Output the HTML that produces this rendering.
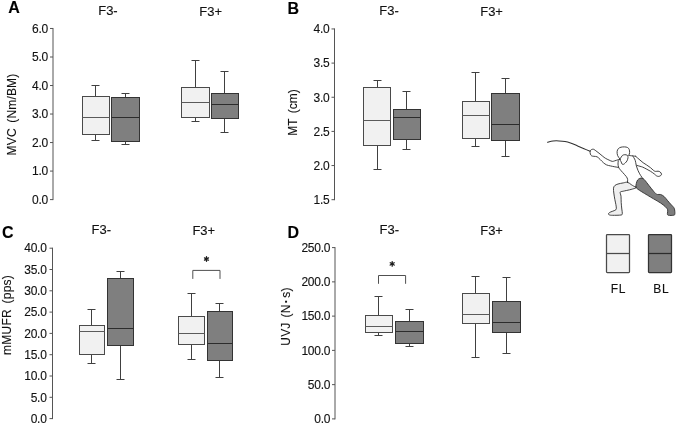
<!DOCTYPE html>
<html><head><meta charset="utf-8"><style>
html,body{margin:0;padding:0;background:#fff;}
svg{display:block;will-change:transform;}
text{font-family:"Liberation Sans",sans-serif;fill:#111;stroke:#111;stroke-width:0.12px;}
.t12{font-size:12px;}
.t13{font-size:13px;}
.lbl{font-size:16px;font-weight:bold;fill:#000;}
</style></head><body>
<svg width="676" height="425" viewBox="0 0 676 425">
<g>
<rect width="676" height="425" fill="#fff"/>
<text x="8.3" y="12.9" text-anchor="start" class="lbl" >A</text>
<text x="98.2" y="14.6" text-anchor="start" class="t13" >F3-</text>
<text x="199.3" y="15.8" text-anchor="start" class="t13" >F3+</text>
<line x1="53.0" y1="27.98" x2="53.0" y2="200.1" stroke="#555555" stroke-width="1"/>
<line x1="50.0" y1="199.6" x2="53.0" y2="199.6" stroke="#555555" stroke-width="1"/>
<text x="48" y="203.90" text-anchor="end" class="t12" letter-spacing="-0.25">0.0</text>
<line x1="50.0" y1="171.08" x2="53.0" y2="171.08" stroke="#555555" stroke-width="1"/>
<text x="48" y="175.38" text-anchor="end" class="t12" letter-spacing="-0.25">1.0</text>
<line x1="50.0" y1="142.56" x2="53.0" y2="142.56" stroke="#555555" stroke-width="1"/>
<text x="48" y="146.86" text-anchor="end" class="t12" letter-spacing="-0.25">2.0</text>
<line x1="50.0" y1="114.04" x2="53.0" y2="114.04" stroke="#555555" stroke-width="1"/>
<text x="48" y="118.34" text-anchor="end" class="t12" letter-spacing="-0.25">3.0</text>
<line x1="50.0" y1="85.52" x2="53.0" y2="85.52" stroke="#555555" stroke-width="1"/>
<text x="48" y="89.82" text-anchor="end" class="t12" letter-spacing="-0.25">4.0</text>
<line x1="50.0" y1="57.0" x2="53.0" y2="57.0" stroke="#555555" stroke-width="1"/>
<text x="48" y="61.30" text-anchor="end" class="t12" letter-spacing="-0.25">5.0</text>
<line x1="50.0" y1="28.48" x2="53.0" y2="28.48" stroke="#555555" stroke-width="1"/>
<text x="48" y="32.78" text-anchor="end" class="t12" letter-spacing="-0.25">6.0</text>
<text transform="translate(16.1,114.5) rotate(-90)" text-anchor="middle" class="t12" letter-spacing="0.17" word-spacing="2">MVC (Nm/BM)</text>
<line x1="95.5" y1="85.5" x2="95.5" y2="96.5" stroke="#404040" stroke-width="1"/>
<line x1="95.5" y1="134.5" x2="95.5" y2="140.5" stroke="#404040" stroke-width="1"/>
<line x1="91.5" y1="85.5" x2="99.5" y2="85.5" stroke="#404040" stroke-width="1"/>
<line x1="91.5" y1="140.5" x2="99.5" y2="140.5" stroke="#404040" stroke-width="1"/>
<rect x="82.5" y="96.5" width="27.0" height="38.0" fill="#f1f1f1" stroke="#4a4a4a" stroke-width="1"/>
<line x1="82.5" y1="117.5" x2="109.5" y2="117.5" stroke="#5a5a5a" stroke-width="1"/>
<line x1="125.5" y1="93.5" x2="125.5" y2="97.5" stroke="#404040" stroke-width="1"/>
<line x1="125.5" y1="141.5" x2="125.5" y2="144.5" stroke="#404040" stroke-width="1"/>
<line x1="121.5" y1="93.5" x2="129.5" y2="93.5" stroke="#404040" stroke-width="1"/>
<line x1="121.5" y1="144.5" x2="129.5" y2="144.5" stroke="#404040" stroke-width="1"/>
<rect x="111.5" y="97.5" width="28.0" height="44.0" fill="#7f7f7f" stroke="#333333" stroke-width="1"/>
<line x1="111.5" y1="117.5" x2="139.5" y2="117.5" stroke="#2c2c2c" stroke-width="1"/>
<line x1="195.5" y1="60.5" x2="195.5" y2="87.5" stroke="#404040" stroke-width="1"/>
<line x1="195.5" y1="117.5" x2="195.5" y2="121.5" stroke="#404040" stroke-width="1"/>
<line x1="191.5" y1="60.5" x2="199.5" y2="60.5" stroke="#404040" stroke-width="1"/>
<line x1="191.5" y1="121.5" x2="199.5" y2="121.5" stroke="#404040" stroke-width="1"/>
<rect x="181.5" y="87.5" width="28.0" height="30.0" fill="#f1f1f1" stroke="#4a4a4a" stroke-width="1"/>
<line x1="181.5" y1="102.5" x2="209.5" y2="102.5" stroke="#5a5a5a" stroke-width="1"/>
<line x1="224.5" y1="71.5" x2="224.5" y2="93.5" stroke="#404040" stroke-width="1"/>
<line x1="224.5" y1="118.5" x2="224.5" y2="132.5" stroke="#404040" stroke-width="1"/>
<line x1="220.5" y1="71.5" x2="228.5" y2="71.5" stroke="#404040" stroke-width="1"/>
<line x1="220.5" y1="132.5" x2="228.5" y2="132.5" stroke="#404040" stroke-width="1"/>
<rect x="211.5" y="93.5" width="27.0" height="25.0" fill="#7f7f7f" stroke="#333333" stroke-width="1"/>
<line x1="211.5" y1="104.5" x2="238.5" y2="104.5" stroke="#2c2c2c" stroke-width="1"/>
<text x="287.5" y="13.9" text-anchor="start" class="lbl" >B</text>
<text x="379.3" y="14.6" text-anchor="start" class="t13" >F3-</text>
<text x="480.2" y="15.8" text-anchor="start" class="t13" >F3+</text>
<line x1="334.5" y1="28.45" x2="334.5" y2="200.2" stroke="#555555" stroke-width="1"/>
<line x1="331.5" y1="199.7" x2="334.5" y2="199.7" stroke="#555555" stroke-width="1"/>
<text x="329.5" y="204.00" text-anchor="end" class="t12" letter-spacing="-0.25">1.5</text>
<line x1="331.5" y1="165.55" x2="334.5" y2="165.55" stroke="#555555" stroke-width="1"/>
<text x="329.5" y="169.85" text-anchor="end" class="t12" letter-spacing="-0.25">2.0</text>
<line x1="331.5" y1="131.4" x2="334.5" y2="131.4" stroke="#555555" stroke-width="1"/>
<text x="329.5" y="135.70" text-anchor="end" class="t12" letter-spacing="-0.25">2.5</text>
<line x1="331.5" y1="97.25" x2="334.5" y2="97.25" stroke="#555555" stroke-width="1"/>
<text x="329.5" y="101.55" text-anchor="end" class="t12" letter-spacing="-0.25">3.0</text>
<line x1="331.5" y1="63.1" x2="334.5" y2="63.1" stroke="#555555" stroke-width="1"/>
<text x="329.5" y="67.40" text-anchor="end" class="t12" letter-spacing="-0.25">3.5</text>
<line x1="331.5" y1="28.95" x2="334.5" y2="28.95" stroke="#555555" stroke-width="1"/>
<text x="329.5" y="33.25" text-anchor="end" class="t12" letter-spacing="-0.25">4.0</text>
<text transform="translate(296.6,112.5) rotate(-90)" text-anchor="middle" class="t12" word-spacing="2">MT (cm)</text>
<line x1="377.5" y1="80.5" x2="377.5" y2="87.5" stroke="#404040" stroke-width="1"/>
<line x1="377.5" y1="145.5" x2="377.5" y2="169.5" stroke="#404040" stroke-width="1"/>
<line x1="373.5" y1="80.5" x2="381.5" y2="80.5" stroke="#404040" stroke-width="1"/>
<line x1="373.5" y1="169.5" x2="381.5" y2="169.5" stroke="#404040" stroke-width="1"/>
<rect x="363.5" y="87.5" width="27.0" height="58.0" fill="#f1f1f1" stroke="#4a4a4a" stroke-width="1"/>
<line x1="363.5" y1="120.5" x2="390.5" y2="120.5" stroke="#5a5a5a" stroke-width="1"/>
<line x1="406.5" y1="91.5" x2="406.5" y2="109.5" stroke="#404040" stroke-width="1"/>
<line x1="406.5" y1="139.5" x2="406.5" y2="149.5" stroke="#404040" stroke-width="1"/>
<line x1="402.5" y1="91.5" x2="410.5" y2="91.5" stroke="#404040" stroke-width="1"/>
<line x1="402.5" y1="149.5" x2="410.5" y2="149.5" stroke="#404040" stroke-width="1"/>
<rect x="393.5" y="109.5" width="27.0" height="30.0" fill="#7f7f7f" stroke="#333333" stroke-width="1"/>
<line x1="393.5" y1="117.5" x2="420.5" y2="117.5" stroke="#2c2c2c" stroke-width="1"/>
<line x1="475.5" y1="72.5" x2="475.5" y2="101.5" stroke="#404040" stroke-width="1"/>
<line x1="475.5" y1="138.5" x2="475.5" y2="146.5" stroke="#404040" stroke-width="1"/>
<line x1="471.5" y1="72.5" x2="479.5" y2="72.5" stroke="#404040" stroke-width="1"/>
<line x1="471.5" y1="146.5" x2="479.5" y2="146.5" stroke="#404040" stroke-width="1"/>
<rect x="462.5" y="101.5" width="27.0" height="37.0" fill="#f1f1f1" stroke="#4a4a4a" stroke-width="1"/>
<line x1="462.5" y1="115.5" x2="489.5" y2="115.5" stroke="#5a5a5a" stroke-width="1"/>
<line x1="505.5" y1="78.5" x2="505.5" y2="93.5" stroke="#404040" stroke-width="1"/>
<line x1="505.5" y1="140.5" x2="505.5" y2="156.5" stroke="#404040" stroke-width="1"/>
<line x1="501.5" y1="78.5" x2="509.5" y2="78.5" stroke="#404040" stroke-width="1"/>
<line x1="501.5" y1="156.5" x2="509.5" y2="156.5" stroke="#404040" stroke-width="1"/>
<rect x="491.5" y="93.5" width="28.0" height="47.0" fill="#7f7f7f" stroke="#333333" stroke-width="1"/>
<line x1="491.5" y1="124.5" x2="519.5" y2="124.5" stroke="#2c2c2c" stroke-width="1"/>
<text x="1.9" y="237.6" text-anchor="start" class="lbl" >C</text>
<text x="91.5" y="234.2" text-anchor="start" class="t13" >F3-</text>
<text x="192.4" y="234.8" text-anchor="start" class="t13" >F3+</text>
<line x1="52.5" y1="247.7" x2="52.5" y2="419.1" stroke="#555555" stroke-width="1"/>
<line x1="49.5" y1="418.6" x2="52.5" y2="418.6" stroke="#555555" stroke-width="1"/>
<text x="46.6" y="422.80" text-anchor="end" class="t12" letter-spacing="-0.25">0.0</text>
<line x1="49.5" y1="397.3" x2="52.5" y2="397.3" stroke="#555555" stroke-width="1"/>
<text x="46.6" y="401.50" text-anchor="end" class="t12" letter-spacing="-0.25">5.0</text>
<line x1="49.5" y1="376.0" x2="52.5" y2="376.0" stroke="#555555" stroke-width="1"/>
<text x="46.6" y="380.20" text-anchor="end" class="t12" letter-spacing="-0.25">10.0</text>
<line x1="49.5" y1="354.7" x2="52.5" y2="354.7" stroke="#555555" stroke-width="1"/>
<text x="46.6" y="358.90" text-anchor="end" class="t12" letter-spacing="-0.25">15.0</text>
<line x1="49.5" y1="333.4" x2="52.5" y2="333.4" stroke="#555555" stroke-width="1"/>
<text x="46.6" y="337.60" text-anchor="end" class="t12" letter-spacing="-0.25">20.0</text>
<line x1="49.5" y1="312.1" x2="52.5" y2="312.1" stroke="#555555" stroke-width="1"/>
<text x="46.6" y="316.30" text-anchor="end" class="t12" letter-spacing="-0.25">25.0</text>
<line x1="49.5" y1="290.8" x2="52.5" y2="290.8" stroke="#555555" stroke-width="1"/>
<text x="46.6" y="295.00" text-anchor="end" class="t12" letter-spacing="-0.25">30.0</text>
<line x1="49.5" y1="269.5" x2="52.5" y2="269.5" stroke="#555555" stroke-width="1"/>
<text x="46.6" y="273.70" text-anchor="end" class="t12" letter-spacing="-0.25">35.0</text>
<line x1="49.5" y1="248.2" x2="52.5" y2="248.2" stroke="#555555" stroke-width="1"/>
<text x="46.6" y="252.40" text-anchor="end" class="t12" letter-spacing="-0.25">40.0</text>
<text transform="translate(11.3,315) rotate(-90)" text-anchor="middle" class="t12" letter-spacing="0.25" word-spacing="2">mMUFR (pps)</text>
<line x1="91.5" y1="309.5" x2="91.5" y2="325.5" stroke="#404040" stroke-width="1"/>
<line x1="91.5" y1="354.5" x2="91.5" y2="363.5" stroke="#404040" stroke-width="1"/>
<line x1="87.5" y1="309.5" x2="95.5" y2="309.5" stroke="#404040" stroke-width="1"/>
<line x1="87.5" y1="363.5" x2="95.5" y2="363.5" stroke="#404040" stroke-width="1"/>
<rect x="79.5" y="325.5" width="25.0" height="29.0" fill="#f1f1f1" stroke="#4a4a4a" stroke-width="1"/>
<line x1="79.5" y1="331.5" x2="104.5" y2="331.5" stroke="#5a5a5a" stroke-width="1"/>
<line x1="120.5" y1="271.5" x2="120.5" y2="278.5" stroke="#404040" stroke-width="1"/>
<line x1="120.5" y1="345.5" x2="120.5" y2="379.5" stroke="#404040" stroke-width="1"/>
<line x1="116.5" y1="271.5" x2="124.5" y2="271.5" stroke="#404040" stroke-width="1"/>
<line x1="116.5" y1="379.5" x2="124.5" y2="379.5" stroke="#404040" stroke-width="1"/>
<rect x="107.5" y="278.5" width="26.0" height="67.0" fill="#7f7f7f" stroke="#333333" stroke-width="1"/>
<line x1="107.5" y1="328.5" x2="133.5" y2="328.5" stroke="#2c2c2c" stroke-width="1"/>
<line x1="191.5" y1="293.5" x2="191.5" y2="316.5" stroke="#404040" stroke-width="1"/>
<line x1="191.5" y1="344.5" x2="191.5" y2="359.5" stroke="#404040" stroke-width="1"/>
<line x1="187.5" y1="293.5" x2="195.5" y2="293.5" stroke="#404040" stroke-width="1"/>
<line x1="187.5" y1="359.5" x2="195.5" y2="359.5" stroke="#404040" stroke-width="1"/>
<rect x="178.5" y="316.5" width="26.0" height="28.0" fill="#f1f1f1" stroke="#4a4a4a" stroke-width="1"/>
<line x1="178.5" y1="333.5" x2="204.5" y2="333.5" stroke="#5a5a5a" stroke-width="1"/>
<line x1="219.5" y1="303.5" x2="219.5" y2="311.5" stroke="#404040" stroke-width="1"/>
<line x1="219.5" y1="360.5" x2="219.5" y2="377.5" stroke="#404040" stroke-width="1"/>
<line x1="215.5" y1="303.5" x2="223.5" y2="303.5" stroke="#404040" stroke-width="1"/>
<line x1="215.5" y1="377.5" x2="223.5" y2="377.5" stroke="#404040" stroke-width="1"/>
<rect x="207.5" y="311.5" width="25.0" height="49.0" fill="#7f7f7f" stroke="#333333" stroke-width="1"/>
<line x1="207.5" y1="343.5" x2="232.5" y2="343.5" stroke="#2c2c2c" stroke-width="1"/>
<path d="M192.8 278.9 V270.4 H220 V278.9" fill="none" stroke="#505050" stroke-width="1" stroke-linejoin="round"/>
<path d="M206.5 256.7 V261.3 M204.51 257.85 L208.49 260.15 M204.51 260.15 L208.49 257.85" stroke="#1e1e1e" stroke-width="1.3" stroke-linecap="round"/>
<text x="287.4" y="237.6" text-anchor="start" class="lbl" >D</text>
<text x="379.5" y="234.2" text-anchor="start" class="t13" >F3-</text>
<text x="480.2" y="234.8" text-anchor="start" class="t13" >F3+</text>
<line x1="335.0" y1="247.1" x2="335.0" y2="419.4" stroke="#555555" stroke-width="1"/>
<line x1="332.0" y1="418.9" x2="335.0" y2="418.9" stroke="#555555" stroke-width="1"/>
<text x="330.2" y="423.20" text-anchor="end" class="t12" letter-spacing="-0.25">0.0</text>
<line x1="332.0" y1="384.64" x2="335.0" y2="384.64" stroke="#555555" stroke-width="1"/>
<text x="330.2" y="388.94" text-anchor="end" class="t12" letter-spacing="-0.25">50.0</text>
<line x1="332.0" y1="350.38" x2="335.0" y2="350.38" stroke="#555555" stroke-width="1"/>
<text x="330.2" y="354.68" text-anchor="end" class="t12" letter-spacing="-0.25">100.0</text>
<line x1="332.0" y1="316.12" x2="335.0" y2="316.12" stroke="#555555" stroke-width="1"/>
<text x="330.2" y="320.42" text-anchor="end" class="t12" letter-spacing="-0.25">150.0</text>
<line x1="332.0" y1="281.86" x2="335.0" y2="281.86" stroke="#555555" stroke-width="1"/>
<text x="330.2" y="286.16" text-anchor="end" class="t12" letter-spacing="-0.25">200.0</text>
<line x1="332.0" y1="247.6" x2="335.0" y2="247.6" stroke="#555555" stroke-width="1"/>
<text x="330.2" y="251.90" text-anchor="end" class="t12" letter-spacing="-0.25">250.0</text>
<text transform="translate(290.4,316.5) rotate(-90)" text-anchor="middle" class="t12" word-spacing="1.4" letter-spacing="0.2">UVJ (N<tspan dx="1.3" font-weight="bold">·</tspan><tspan dx="1.3">s)</tspan></text>
<line x1="378.5" y1="296.5" x2="378.5" y2="315.5" stroke="#404040" stroke-width="1"/>
<line x1="378.5" y1="332.5" x2="378.5" y2="335.5" stroke="#404040" stroke-width="1"/>
<line x1="374.5" y1="296.5" x2="382.5" y2="296.5" stroke="#404040" stroke-width="1"/>
<line x1="374.5" y1="335.5" x2="382.5" y2="335.5" stroke="#404040" stroke-width="1"/>
<rect x="365.5" y="315.5" width="27.0" height="17.0" fill="#f1f1f1" stroke="#4a4a4a" stroke-width="1"/>
<line x1="365.5" y1="326.5" x2="392.5" y2="326.5" stroke="#5a5a5a" stroke-width="1"/>
<line x1="409.5" y1="309.5" x2="409.5" y2="321.5" stroke="#404040" stroke-width="1"/>
<line x1="409.5" y1="343.5" x2="409.5" y2="346.5" stroke="#404040" stroke-width="1"/>
<line x1="405.5" y1="309.5" x2="413.5" y2="309.5" stroke="#404040" stroke-width="1"/>
<line x1="405.5" y1="346.5" x2="413.5" y2="346.5" stroke="#404040" stroke-width="1"/>
<rect x="395.5" y="321.5" width="28.0" height="22.0" fill="#7f7f7f" stroke="#333333" stroke-width="1"/>
<line x1="395.5" y1="331.5" x2="423.5" y2="331.5" stroke="#2c2c2c" stroke-width="1"/>
<line x1="475.5" y1="276.5" x2="475.5" y2="293.5" stroke="#404040" stroke-width="1"/>
<line x1="475.5" y1="323.5" x2="475.5" y2="357.5" stroke="#404040" stroke-width="1"/>
<line x1="471.5" y1="276.5" x2="479.5" y2="276.5" stroke="#404040" stroke-width="1"/>
<line x1="471.5" y1="357.5" x2="479.5" y2="357.5" stroke="#404040" stroke-width="1"/>
<rect x="462.5" y="293.5" width="27.0" height="30.0" fill="#f1f1f1" stroke="#4a4a4a" stroke-width="1"/>
<line x1="462.5" y1="314.5" x2="489.5" y2="314.5" stroke="#5a5a5a" stroke-width="1"/>
<line x1="506.5" y1="277.5" x2="506.5" y2="301.5" stroke="#404040" stroke-width="1"/>
<line x1="506.5" y1="332.5" x2="506.5" y2="353.5" stroke="#404040" stroke-width="1"/>
<line x1="502.5" y1="277.5" x2="510.5" y2="277.5" stroke="#404040" stroke-width="1"/>
<line x1="502.5" y1="353.5" x2="510.5" y2="353.5" stroke="#404040" stroke-width="1"/>
<rect x="492.5" y="301.5" width="28.0" height="31.0" fill="#7f7f7f" stroke="#333333" stroke-width="1"/>
<line x1="492.5" y1="322.5" x2="520.5" y2="322.5" stroke="#2c2c2c" stroke-width="1"/>
<path d="M378.5 283.8 V275.5 H405.6 V283.8" fill="none" stroke="#505050" stroke-width="1" stroke-linejoin="round"/>
<path d="M392.2 261.6 V266.2 M390.21 262.75 L394.19 265.05 M390.21 265.05 L394.19 262.75" stroke="#1e1e1e" stroke-width="1.3" stroke-linecap="round"/>
<rect x="606.5" y="234.5" width="23" height="38" rx="0.8" fill="#f1f1f1" stroke="#4a4a4a" stroke-width="1.25"/>
<line x1="606.5" y1="253.5" x2="629.5" y2="253.5" stroke="#4a4a4a" stroke-width="1.25"/>
<rect x="648.5" y="234.5" width="23" height="38" rx="0.8" fill="#7f7f7f" stroke="#333" stroke-width="1.25"/>
<line x1="648.5" y1="253.5" x2="672" y2="253.5" stroke="#2c2c2c" stroke-width="1.25"/>
<text x="610.8" y="293" text-anchor="start" class="t12" letter-spacing="0.6">FL</text>
<text x="653.3" y="293" text-anchor="start" class="t12" letter-spacing="0.6">BL</text>
<g stroke-linejoin="round" stroke-linecap="round">
<path d="M547.50 142.20 C548.42 142.00 551.08 141.22 553.00 141.00 C554.92 140.78 557.00 140.83 559.00 140.90 C561.00 140.97 563.08 141.07 565.00 141.40 C566.92 141.73 568.40 142.15 570.50 142.90 C572.60 143.65 575.35 144.93 577.60 145.90 C579.85 146.87 581.92 147.80 584.00 148.70 C586.08 149.60 589.08 150.87 590.10 151.30" fill="none" stroke="#2f2f2f" stroke-width="1.05" />
<path d="M627.50 182.20 C626.18 181.92 624.88 182.60 623.30 182.90 C621.72 183.20 619.42 183.55 618.00 184.00 C616.58 184.45 615.55 184.90 614.80 185.60 C614.05 186.30 613.67 186.97 613.50 188.20 C613.33 189.43 613.58 191.15 613.80 193.00 C614.02 194.85 614.45 197.37 614.80 199.30 C615.15 201.23 615.65 203.02 615.90 204.60 C616.15 206.18 616.48 207.83 616.30 208.80 C616.12 209.77 615.72 209.88 614.80 210.40 C613.88 210.92 611.83 211.40 610.80 211.90 C609.77 212.40 608.87 212.90 608.60 213.40 C608.33 213.90 608.52 214.58 609.20 214.90 C609.88 215.22 610.73 215.28 612.70 215.30 C614.67 215.32 619.40 215.32 621.00 215.00 C622.60 214.68 622.17 214.40 622.30 213.40 C622.43 212.40 621.98 210.82 621.80 209.00 C621.62 207.18 621.33 204.63 621.20 202.50 C621.07 200.37 621.17 197.92 621.00 196.20 C620.83 194.48 619.82 193.03 620.20 192.20 C620.58 191.37 621.73 191.60 623.30 191.20 C624.87 190.80 627.67 190.28 629.60 189.80 C631.53 189.32 633.78 188.70 634.90 188.30 C636.02 187.90 636.53 187.78 636.30 187.40 C636.07 187.02 634.35 186.47 633.50 186.00 C632.65 185.53 632.20 185.23 631.20 184.60 C630.20 183.97 628.82 182.48 627.50 182.20 Z" fill="#efefef" stroke="#2f2f2f" stroke-width="0.9" />
<path d="M635.90 187.10 C635.68 186.18 636.02 184.68 636.30 183.50 C636.58 182.32 637.02 180.85 637.60 180.00 C638.18 179.15 639.07 178.70 639.80 178.40 C640.53 178.10 641.28 178.03 642.00 178.20 C642.72 178.37 643.35 178.72 644.10 179.40 C644.85 180.08 645.72 181.32 646.50 182.30 C647.28 183.28 648.02 184.30 648.80 185.30 C649.58 186.30 650.42 187.32 651.20 188.30 C651.98 189.28 652.78 190.35 653.50 191.20 C654.22 192.05 654.83 192.85 655.50 193.40 C656.17 193.95 656.65 194.32 657.50 194.50 C658.35 194.68 659.50 194.17 660.60 194.50 C661.70 194.83 662.93 195.48 664.10 196.50 C665.27 197.52 666.52 199.33 667.60 200.60 C668.68 201.87 669.72 203.12 670.60 204.10 C671.48 205.08 672.27 205.72 672.90 206.50 C673.53 207.28 674.07 207.62 674.40 208.80 C674.73 209.98 675.00 212.53 674.90 213.60 C674.80 214.67 674.88 214.92 673.80 215.20 C672.72 215.48 669.47 215.57 668.40 215.30 C667.33 215.03 667.52 214.52 667.40 213.60 C667.28 212.68 668.05 210.95 667.70 209.80 C667.35 208.65 666.48 207.83 665.30 206.70 C664.12 205.57 662.57 204.32 660.60 203.00 C658.63 201.68 655.67 200.08 653.50 198.80 C651.33 197.52 649.55 196.47 647.60 195.30 C645.65 194.13 643.47 192.85 641.80 191.80 C640.13 190.75 638.58 189.78 637.60 189.00 C636.62 188.22 636.12 188.02 635.90 187.10 Z" fill="#7d7d7d" stroke="#2f2f2f" stroke-width="0.9" />
<path d="M618.30 160.80 C618.25 161.33 617.95 162.93 618.00 164.00 C618.05 165.07 618.30 166.33 618.60 167.20 C618.90 168.07 619.10 168.30 619.80 169.20 C620.50 170.10 621.72 171.37 622.80 172.60 C623.88 173.83 625.50 175.48 626.30 176.60 C627.10 177.72 627.40 178.37 627.60 179.30 C627.80 180.23 627.52 181.72 627.50 182.20" fill="none" stroke="#2f2f2f" stroke-width="0.9" />
<path d="M632.70 155.90 C633.12 156.63 634.62 158.75 635.20 160.30 C635.78 161.85 635.72 163.47 636.20 165.20 C636.68 166.93 637.37 169.00 638.10 170.70 C638.83 172.40 639.80 174.08 640.60 175.40 C641.40 176.72 642.52 178.07 642.90 178.60" fill="none" stroke="#2f2f2f" stroke-width="0.9" />
<path d="M619.90 159.50 C619.58 159.55 618.85 159.58 618.00 159.80 C617.15 160.02 615.75 160.53 614.80 160.80 C613.85 161.07 613.25 161.52 612.30 161.40 C611.35 161.28 610.27 160.63 609.10 160.10 C607.93 159.57 606.35 158.83 605.30 158.20 C604.25 157.57 603.85 157.13 602.80 156.30 C601.75 155.47 600.27 154.20 599.00 153.20 C597.73 152.20 596.15 150.97 595.20 150.30 C594.25 149.63 593.95 149.30 593.30 149.20 C592.65 149.10 591.83 149.35 591.30 149.70 C590.77 150.05 590.25 150.57 590.10 151.30 C589.95 152.03 590.13 153.33 590.40 154.10 C590.67 154.87 591.12 155.53 591.70 155.90 C592.28 156.27 593.00 156.15 593.90 156.30 C594.80 156.45 596.05 156.27 597.10 156.80 C598.15 157.33 599.15 158.52 600.20 159.50 C601.25 160.48 602.33 161.80 603.40 162.70 C604.47 163.60 605.43 164.37 606.60 164.90 C607.77 165.43 609.03 165.58 610.40 165.90 C611.77 166.22 613.47 166.55 614.80 166.80 C616.13 167.05 617.80 167.30 618.40 167.40" fill="none" stroke="#2f2f2f" stroke-width="0.9" />
<path d="M619.60 158.60 C619.27 158.08 618.02 156.68 617.60 155.50 C617.18 154.32 616.97 152.65 617.10 151.50 C617.23 150.35 617.75 149.32 618.40 148.60 C619.05 147.88 619.98 147.48 621.00 147.20 C622.02 146.92 623.42 146.85 624.50 146.90 C625.58 146.95 626.72 147.08 627.50 147.50 C628.28 147.92 628.85 148.55 629.20 149.40 C629.55 150.25 629.65 151.60 629.60 152.60 C629.55 153.60 629.02 154.93 628.90 155.40" fill="none" stroke="#2f2f2f" stroke-width="0.9" />
<path d="M619.90 159.30 C619.92 158.48 620.85 157.67 621.30 157.00 C621.75 156.33 622.02 155.68 622.60 155.30 C623.18 154.92 624.02 154.70 624.80 154.70 C625.58 154.70 626.77 154.82 627.30 155.30 C627.83 155.78 628.05 156.67 628.00 157.60 C627.95 158.53 627.47 160.00 627.00 160.90 C626.53 161.80 625.77 162.43 625.20 163.00 C624.63 163.57 624.13 164.13 623.60 164.30 C623.07 164.47 622.40 164.40 622.00 164.00 C621.60 163.60 621.55 162.68 621.20 161.90 C620.85 161.12 619.88 160.12 619.90 159.30 Z" fill="#fff" stroke="#2f2f2f" stroke-width="0.9" />
<path d="M628.90 155.40 C629.22 155.45 630.17 155.62 630.80 155.70 C631.43 155.78 631.88 155.80 632.70 155.90 C633.52 156.00 635.20 156.23 635.70 156.30" fill="none" stroke="#2f2f2f" stroke-width="0.9" />
<path d="M635.70 156.30 C636.02 156.58 636.88 157.37 637.60 158.00 C638.32 158.63 639.08 159.32 640.00 160.10 C640.92 160.88 641.98 161.88 643.10 162.70 C644.22 163.52 645.48 164.18 646.70 165.00 C647.92 165.82 649.27 166.70 650.40 167.60 C651.53 168.50 652.65 169.77 653.50 170.40 C654.35 171.03 654.73 171.27 655.50 171.40 C656.27 171.53 657.32 171.10 658.10 171.20 C658.88 171.30 659.63 171.52 660.20 172.00 C660.77 172.48 661.42 173.50 661.50 174.10 C661.58 174.70 661.17 175.22 660.70 175.60 C660.23 175.98 659.38 176.35 658.70 176.40 C658.02 176.45 657.30 176.28 656.60 175.90 C655.90 175.52 655.53 174.88 654.50 174.10 C653.47 173.32 651.78 172.07 650.40 171.20 C649.02 170.33 647.50 169.58 646.20 168.90 C644.90 168.22 643.63 167.53 642.60 167.10 C641.57 166.67 640.97 166.58 640.00 166.30 C639.03 166.02 637.33 165.55 636.80 165.40" fill="none" stroke="#2f2f2f" stroke-width="0.9" />
</g>

</g>
</svg>
</body></html>
